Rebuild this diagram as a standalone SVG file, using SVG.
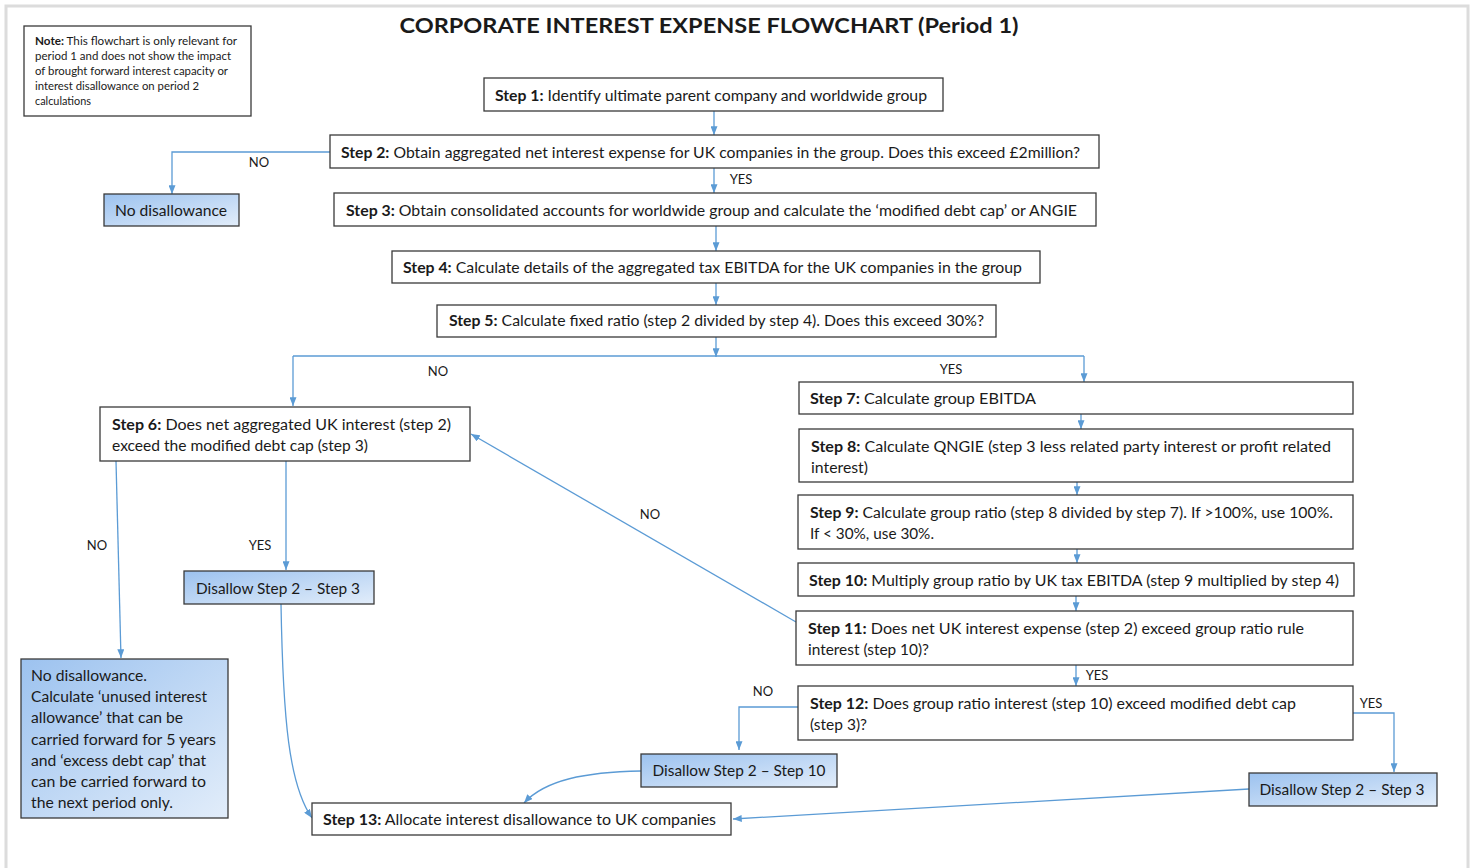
<svg xmlns="http://www.w3.org/2000/svg" width="1477" height="868" viewBox="0 0 1477 868">
<defs>
<linearGradient id="blue" x1="0" y1="0" x2="1" y2="1">
<stop offset="0" stop-color="#9cc2ef"/>
<stop offset="1" stop-color="#e2edfa"/>
</linearGradient>
<marker id="arr" viewBox="0 0 10 8" refX="10" refY="4" markerWidth="9" markerHeight="7" markerUnits="userSpaceOnUse" orient="auto">
<path d="M0,0 L10,4 L0,8 z" fill="#5b9bd5"/>
</marker>
</defs>
<style>
text{font-family:Lato,"Liberation Sans",sans-serif;fill:#1a1a1a;}
.box{fill:#ffffff;stroke:#3a3a3a;stroke-width:1.3;}
.bbox{fill:url(#blue);stroke:#3a3a3a;stroke-width:1.3;}
.t{font-size:15px;}
.t2{font-size:15.5px;}
.b{font-weight:bold;}
.lbl{font-size:13px;}
.note{font-size:11.5px;}
.con{fill:none;stroke:#5b9bd5;stroke-width:1.3;}
.ar{marker-end:url(#arr);}
</style>
<rect x="0" y="0" width="1477" height="868" fill="#ffffff"/>
<rect x="6" y="6" width="1462" height="880" fill="#ffffff" stroke="#dcdcdc" stroke-width="3"/>

<text x="709" y="33" font-size="21" font-weight="bold" text-anchor="middle" textLength="619" lengthAdjust="spacingAndGlyphs">CORPORATE INTEREST EXPENSE FLOWCHART (Period 1)</text>

<g id="note">
<rect class="box" x="24" y="26" width="227" height="90"/>
<text class="note" x="35" y="45" textLength="202" lengthAdjust="spacingAndGlyphs"><tspan class="b">Note:</tspan> This flowchart is only relevant for</text>
<text class="note" x="35" y="60" textLength="196" lengthAdjust="spacingAndGlyphs">period 1 and does not show the impact</text>
<text class="note" x="35" y="75" textLength="193" lengthAdjust="spacingAndGlyphs">of brought forward interest capacity or</text>
<text class="note" x="35" y="90" textLength="164" lengthAdjust="spacingAndGlyphs">interest disallowance on period 2</text>
<text class="note" x="35" y="105" textLength="56" lengthAdjust="spacingAndGlyphs">calculations</text>
</g>

<g id="connectors">
<line class="con ar" x1="714" y1="111" x2="714" y2="135"/>
<polyline class="con ar" points="330,152 172,152 172,194"/>
<line class="con ar" x1="714" y1="168" x2="714" y2="193"/>
<line class="con ar" x1="716" y1="226" x2="716" y2="251"/>
<line class="con ar" x1="716" y1="283" x2="716" y2="305"/>
<line class="con ar" x1="716" y1="337" x2="716" y2="357"/>
<line class="con" x1="293" y1="356" x2="1084" y2="356"/>
<line class="con ar" x1="293" y1="356" x2="293" y2="406"/>
<line class="con ar" x1="1084" y1="356" x2="1084" y2="382"/>
<line class="con ar" x1="116" y1="461" x2="121" y2="658"/>
<line class="con ar" x1="286" y1="461" x2="286" y2="570"/>
<path class="con ar" d="M281,604 C283,720 289,785 312,818"/>
<line class="con ar" x1="1081" y1="414" x2="1081" y2="429"/>
<line class="con ar" x1="1077" y1="482" x2="1077" y2="495"/>
<line class="con ar" x1="1077" y1="549" x2="1077" y2="563"/>
<line class="con ar" x1="1076" y1="596" x2="1076" y2="611"/>
<line class="con ar" x1="796" y1="622" x2="471" y2="434"/>
<line class="con ar" x1="1076" y1="665" x2="1076" y2="686"/>
<polyline class="con ar" points="798,707 739,707 739,750"/>
<polyline class="con ar" points="1353,713 1394,713 1394,772"/>
<path class="con ar" d="M641,771 C585,772 545,780 524,803"/>
<line class="con ar" x1="1249" y1="789" x2="733" y2="819"/>
<text class="lbl" x="259" y="167" text-anchor="middle">NO</text>
<text class="lbl" x="741" y="184" text-anchor="middle">YES</text>
<text class="lbl" x="438" y="376" text-anchor="middle">NO</text>
<text class="lbl" x="951" y="374" text-anchor="middle">YES</text>
<text class="lbl" x="97" y="550" text-anchor="middle">NO</text>
<text class="lbl" x="260" y="550" text-anchor="middle">YES</text>
<text class="lbl" x="650" y="519" text-anchor="middle">NO</text>
<text class="lbl" x="1097" y="680" text-anchor="middle">YES</text>
<text class="lbl" x="763" y="696" text-anchor="middle">NO</text>
<text class="lbl" x="1371" y="708" text-anchor="middle">YES</text>
</g>

<g id="step1">
<rect class="box" x="484" y="78" width="459" height="33"/>
<text class="t" x="495" y="101" textLength="432" lengthAdjust="spacingAndGlyphs"><tspan class="b">Step 1:</tspan> Identify ultimate parent company and worldwide group</text>
</g>
<g id="step2">
<rect class="box" x="330" y="135" width="769" height="33"/>
<text class="t" x="341" y="158" textLength="739" lengthAdjust="spacingAndGlyphs"><tspan class="b">Step 2:</tspan> Obtain aggregated net interest expense for UK companies in the group. Does this exceed £2million?</text>
</g>
<g id="no-disallowance">
<rect class="bbox" x="104" y="194" width="135" height="32"/>
<text class="t" x="171" y="216" text-anchor="middle" textLength="112" lengthAdjust="spacingAndGlyphs">No disallowance</text>
</g>
<g id="step3">
<rect class="box" x="334" y="193" width="762" height="33"/>
<text class="t" x="346" y="216" textLength="731" lengthAdjust="spacingAndGlyphs"><tspan class="b">Step 3:</tspan> Obtain consolidated accounts for worldwide group and calculate the ‘modified debt cap’ or ANGIE</text>
</g>
<g id="step4">
<rect class="box" x="392" y="251" width="648" height="32"/>
<text class="t" x="403" y="273" textLength="619" lengthAdjust="spacingAndGlyphs"><tspan class="b">Step 4:</tspan> Calculate details of the aggregated tax EBITDA for the UK companies in the group</text>
</g>
<g id="step5">
<rect class="box" x="437" y="305" width="559" height="32"/>
<text class="t" x="449" y="326" textLength="535" lengthAdjust="spacingAndGlyphs"><tspan class="b">Step 5:</tspan> Calculate fixed ratio (step 2 divided by step 4). Does this exceed 30%?</text>
</g>
<g id="step6">
<rect class="box" x="100" y="407" width="370" height="54"/>
<text class="t2" x="112" y="430" textLength="339" lengthAdjust="spacingAndGlyphs"><tspan class="b">Step 6:</tspan> Does net aggregated UK interest (step 2)</text>
<text class="t2" x="112" y="451" textLength="256" lengthAdjust="spacingAndGlyphs">exceed the modified debt cap (step 3)</text>
</g>
<g id="disallow-left">
<rect class="bbox" x="184" y="571" width="190" height="33"/>
<text class="t" x="278" y="594" text-anchor="middle" textLength="164" lengthAdjust="spacingAndGlyphs">Disallow Step 2 – Step 3</text>
</g>
<g id="no-disallowance-carry">
<rect class="bbox" x="21" y="659" width="207" height="159"/>
<text class="t2" x="31" y="681" textLength="116" lengthAdjust="spacingAndGlyphs">No disallowance.</text>
<text class="t2" x="31" y="702" textLength="176" lengthAdjust="spacingAndGlyphs">Calculate ‘unused interest</text>
<text class="t2" x="31" y="723" textLength="152" lengthAdjust="spacingAndGlyphs">allowance’ that can be</text>
<text class="t2" x="31" y="745" textLength="185" lengthAdjust="spacingAndGlyphs">carried forward for 5 years</text>
<text class="t2" x="31" y="766" textLength="175" lengthAdjust="spacingAndGlyphs">and ‘excess debt cap’ that</text>
<text class="t2" x="31" y="787" textLength="175" lengthAdjust="spacingAndGlyphs">can be carried forward to</text>
<text class="t2" x="31" y="808" textLength="142" lengthAdjust="spacingAndGlyphs">the next period only.</text>
</g>
<g id="step7">
<rect class="box" x="799" y="382" width="554" height="32"/>
<text class="t2" x="810" y="404" textLength="226" lengthAdjust="spacingAndGlyphs"><tspan class="b">Step 7:</tspan> Calculate group EBITDA</text>
</g>
<g id="step8">
<rect class="box" x="799" y="429" width="554" height="53"/>
<text class="t2" x="811" y="452" textLength="520" lengthAdjust="spacingAndGlyphs"><tspan class="b">Step 8:</tspan> Calculate QNGIE (step 3 less related party interest or profit related</text>
<text class="t2" x="811" y="473" textLength="57" lengthAdjust="spacingAndGlyphs">interest)</text>
</g>
<g id="step9">
<rect class="box" x="798" y="495" width="555" height="54"/>
<text class="t2" x="810" y="518" textLength="523" lengthAdjust="spacingAndGlyphs"><tspan class="b">Step 9:</tspan> Calculate group ratio (step 8 divided by step 7). If &gt;100%, use 100%.</text>
<text class="t2" x="810" y="539" textLength="124" lengthAdjust="spacingAndGlyphs">If &lt; 30%, use 30%.</text>
</g>
<g id="step10">
<rect class="box" x="798" y="563" width="556" height="33"/>
<text class="t2" x="809" y="586" textLength="530" lengthAdjust="spacingAndGlyphs"><tspan class="b">Step 10:</tspan> Multiply group ratio by UK tax EBITDA (step 9 multiplied by step 4)</text>
</g>
<g id="step11">
<rect class="box" x="796" y="611" width="557" height="54"/>
<text class="t2" x="808" y="634" textLength="496" lengthAdjust="spacingAndGlyphs"><tspan class="b">Step 11:</tspan> Does net UK interest expense (step 2) exceed group ratio rule</text>
<text class="t2" x="808" y="655" textLength="121" lengthAdjust="spacingAndGlyphs">interest (step 10)?</text>
</g>
<g id="step12">
<rect class="box" x="798" y="686" width="555" height="54"/>
<text class="t" x="810" y="709" textLength="486" lengthAdjust="spacingAndGlyphs"><tspan class="b">Step 12:</tspan> Does group ratio interest (step 10) exceed modified debt cap</text>
<text class="t" x="810" y="730" textLength="57" lengthAdjust="spacingAndGlyphs">(step 3)?</text>
</g>
<g id="disallow-step10">
<rect class="bbox" x="641" y="754" width="196" height="33"/>
<text class="t" x="739" y="776" text-anchor="middle" textLength="173" lengthAdjust="spacingAndGlyphs">Disallow Step 2 – Step 10</text>
</g>
<g id="disallow-right">
<rect class="bbox" x="1249" y="773" width="188" height="33"/>
<text class="t" x="1342" y="795" text-anchor="middle" textLength="165" lengthAdjust="spacingAndGlyphs">Disallow Step 2 – Step 3</text>
</g>
<g id="step13">
<rect class="box" x="312" y="803" width="419" height="32"/>
<text class="t" x="323" y="825" textLength="393" lengthAdjust="spacingAndGlyphs"><tspan class="b">Step 13:</tspan> Allocate interest disallowance to UK companies</text>
</g>
</svg>
